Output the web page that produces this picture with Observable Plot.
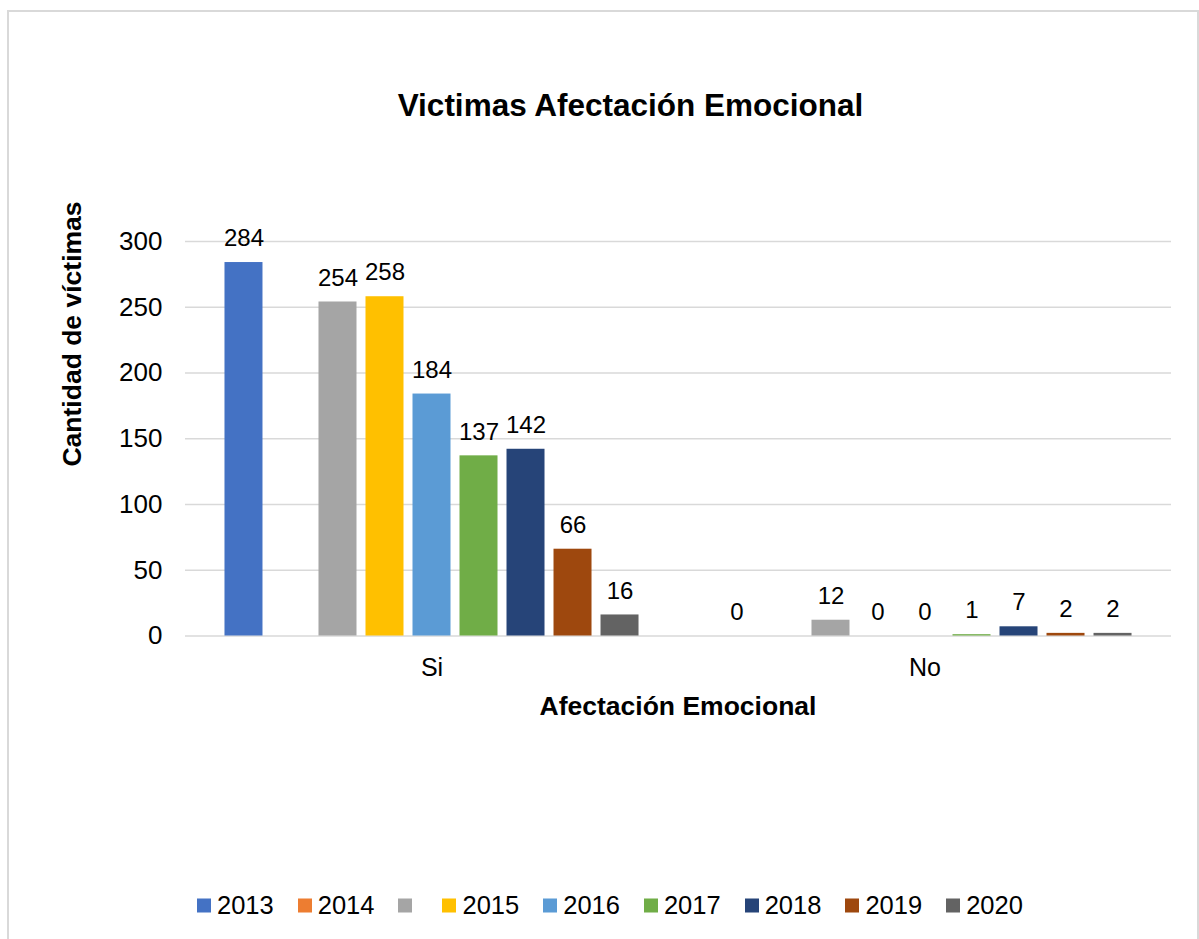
<!DOCTYPE html>
<html>
<head>
<meta charset="utf-8">
<script src="https://cdn.jsdelivr.net/npm/d3@7"></script>
<script src="https://cdn.jsdelivr.net/npm/@observablehq/plot@0.6"></script>
<style>
  html, body { margin: 0; padding: 0; overflow: hidden; background: #fff; width: 1199px; height: 939px; }
  body { position: relative; font-family: "Liberation Sans", Arial, sans-serif; color: #000; }
  #frame { position: absolute; left: 7px; top: 10px; width: 1188px; height: 1000px; border: 2px solid #d9d9d9; box-sizing: content-box; }
  #chart { position: absolute; left: 0; top: 0; }
  .title { position: absolute; left: 630.5px; top: 105px; transform: translate(-50%, -50%); font-weight: bold; font-size: 31.5px; white-space: nowrap; }
  .ytitle { position: absolute; left: 72px; top: 334px; transform: translate(-50%, -50%) rotate(-90deg); font-weight: bold; font-size: 26.5px; white-space: nowrap; }
  .xtitle { position: absolute; left: 678px; top: 706px; transform: translate(-50%, -50%); font-weight: bold; font-size: 26.5px; white-space: nowrap; }
  #legend { position: absolute; left: 197px; top: 905px; transform: translateY(-50%); display: flex; align-items: center; font-size: 25.5px; white-space: nowrap; }
  .item { display: flex; align-items: center; margin-right: 24px; }
  .sw { width: 14px; height: 14px; margin-right: 6px; }
</style>
</head>
<body>
<div id="frame"></div>
<div id="chart"></div>
<div class="title">Victimas Afectación Emocional</div>
<div class="ytitle">Cantidad de víctimas</div>
<div class="xtitle">Afectación Emocional</div>
<div id="legend"></div>
<script>
const categories = ["Si", "No"];
const seriesKeys = ["2013", "2014", "serie3", "2015", "2016", "2017", "2018", "2019", "2020"];
const seriesLabels = ["2013", "2014", "", "2015", "2016", "2017", "2018", "2019", "2020"];
const valuesSi = [284, null, 254, 258, 184, 137, 142, 66, 16];
const valuesNo = [0, null, 12, 0, 0, 1, 7, 2, 2];
const yTicks = [0, 50, 100, 150, 200, 250, 300];
const palette = ["#4472C4", "#ED7D31", "#A5A5A5", "#FFC000", "#5B9BD5", "#70AD47", "#264478", "#9E480E", "#636363"];

const valuesByCat = {Si: valuesSi, No: valuesNo};
const rows = categories.flatMap(c => seriesKeys.map((k, i) => ({cat: c, key: k, value: valuesByCat[c][i]})));
const present = rows.filter(d => d.value != null);

const chart = Plot.plot({
  width: 1199,
  height: 939,
  marginLeft: 185,
  marginRight: 28,
  marginTop: 241,
  marginBottom: 303.5,
  style: {fontFamily: "'Liberation Sans', Arial, sans-serif", fontSize: "26px", color: "#000", background: "transparent"},
  fx: {domain: categories, padding: 0, axis: null, round: false},
  x: {domain: seriesKeys, paddingInner: 0.1915, paddingOuter: 0.84, axis: null, round: false},
  y: {domain: [0, 300], ticks: yTicks, tickSize: 0, tickPadding: 23, label: null},
  color: {domain: seriesKeys, range: palette},
  marks: [
    Plot.ruleY(yTicks, {stroke: "#d9d9d9", strokeWidth: 1.5}),
    Plot.barY(present, {fx: "cat", x: "key", y: "value", fill: "key"}),
    Plot.text(present, {fx: "cat", x: "key", y: "value", text: d => String(d.value), dy: -24, fontSize: 24, fill: "#000"}),
    Plot.text(categories, {fx: d => d, text: d => d, frameAnchor: "bottom", dy: 40, fontSize: 25, fill: "#000"})
  ]
});
document.getElementById("chart").appendChild(chart);

const legend = document.getElementById("legend");
seriesKeys.forEach((k, i) => {
  const item = document.createElement("div");
  item.className = "item";
  const sw = document.createElement("span");
  sw.className = "sw";
  sw.style.background = palette[i];
  const lab = document.createElement("span");
  lab.textContent = seriesLabels[i];
  item.appendChild(sw);
  item.appendChild(lab);
  legend.appendChild(item);
});
</script>
</body>
</html>
